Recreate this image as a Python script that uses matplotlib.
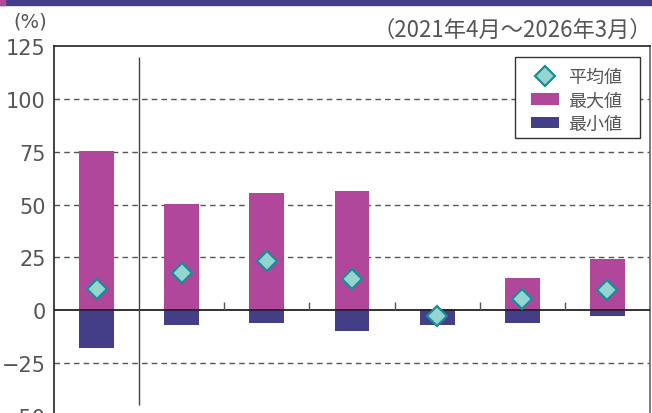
import matplotlib
matplotlib.use("Agg")
import matplotlib.pyplot as plt
from matplotlib.patches import Rectangle, Patch
from matplotlib.lines import Line2D

plt.rcParams['font.family'] = ['DejaVu Sans', 'Noto Sans CJK JP']

categories = ["A", "B", "C", "D", "E", "F", "G"]
max_vals = [75.3, 50.2, 55.5, 56.3, 0.5, 15.2, 24.1]
min_vals = [-18.0, -7.0, -6.0, -9.8, -7.0, -6.0, -2.7]
avg_vals = [10.0, 17.5, 23.3, 15.0, -2.7, 5.2, 9.5]
yticks = [125, 100, 75, 50, 25, 0, -25, -50]
ytick_labels = ["125", "100", "75", "50", "25", "0", "\u221225", "\u221250"]
grid_levels = [100, 75, 50, 25, -25]
legend_labels = ["平均値", "最大値", "最小値"]
period_text = "（2021年4月～2026年3月）"

C_MAX = "#b0479a"
C_MIN = "#433e87"
C_AVG_FACE = "#95d5d0"
C_AVG_EDGE = "#1a8c96"
TXT = "#555555"

W, H = 652, 414
fig = plt.figure(figsize=(W/100, H/100), dpi=100)
ax_l, ax_r, ax_t, ax_b = 54, 650, 47, 417
ax = fig.add_axes([ax_l/W, (H-ax_b)/H, (ax_r-ax_l)/W, (ax_b-ax_t)/H])

def ax_xy(px, py):
    return ((px-ax_l)/(ax_r-ax_l), 1 - (py-ax_t)/(ax_b-ax_t))

x = list(range(len(categories)))
ax.set_xlim(-0.5, len(categories) - 0.5)
ax.set_ylim(-50, 125)

for g in grid_levels:
    ax.axhline(g, color="#555555", lw=1.0, ls=(0, (4, 3)), zorder=1)

ax.bar(x, max_vals, width=0.41, color=C_MAX, zorder=2)
ax.bar(x, min_vals, width=0.41, color=C_MIN, zorder=2)
ax.axhline(0, color="#222222", lw=1.3, zorder=3)
ax.plot(x, avg_vals, ls="none", marker="D", markersize=10.5,
        markerfacecolor=C_AVG_FACE, markeredgecolor=C_AVG_EDGE,
        markeredgewidth=1.6, zorder=4)

# separator and small category ticks
ax.vlines(0.5, -45, 120, color="#444444", lw=1.0, zorder=3)
ax.vlines([1.5, 2.5, 3.5, 4.5, 5.5], 0, 3.8, color="#555555", lw=1.0, zorder=3)

ax.set_xticks([])
ax.set_yticks(yticks)
ax.set_yticklabels(ytick_labels, fontsize=15, color=TXT)
ax.tick_params(axis="y", length=0, pad=6)
ax.spines["bottom"].set_visible(False)
for s in ["left", "top"]:
    ax.spines[s].set_color("#222222")
    ax.spines[s].set_linewidth(1.2)
ax.spines["right"].set_color("#666666")
ax.spines["right"].set_linewidth(1.2)

# legend frame
(fx0, fy1) = ax_xy(515, 58)
(fx1, fy0) = ax_xy(640, 139)
ax.add_patch(Rectangle((fx0, fy0), fx1-fx0, fy1-fy0, transform=ax.transAxes,
                       facecolor="white", edgecolor="#333333", lw=1.0,
                       zorder=6, clip_on=False))

handles = [
    Line2D([], [], ls="none", marker="D", markersize=10,
           markerfacecolor=C_AVG_FACE, markeredgecolor=C_AVG_EDGE, markeredgewidth=1.6),
    Patch(facecolor=C_MAX),
    Patch(facecolor=C_MIN),
]
leg = ax.legend(handles, legend_labels, loc="upper left",
                bbox_to_anchor=ax_xy(531, 69),
                prop={"family": ["Noto Sans CJK JP"], "size": 13},
                frameon=False, handlelength=1.55, handleheight=0.6, borderpad=0,
                labelspacing=0.3, handletextpad=0.5, borderaxespad=0)
leg.set_zorder(7)
for t in leg.get_texts():
    t.set_color(TXT)

fig.text(13/W, 1 - 22/H, "(%)", fontsize=14, color=TXT, va="center", ha="left")
fig.text(652/W, 1 - 30/H, period_text, fontsize=16, color=TXT,
         family=["Noto Sans CJK JP"], va="center", ha="right")

fig.patches.append(Rectangle((0, 1 - 6/H), 1, 6/H, transform=fig.transFigure,
                             color=C_MIN, zorder=0))
fig.patches.append(Rectangle((0, 1 - 6/H), 5/W, 6/H, transform=fig.transFigure,
                             color=C_MAX, zorder=1))

fig.savefig("out.png", dpi=100)
